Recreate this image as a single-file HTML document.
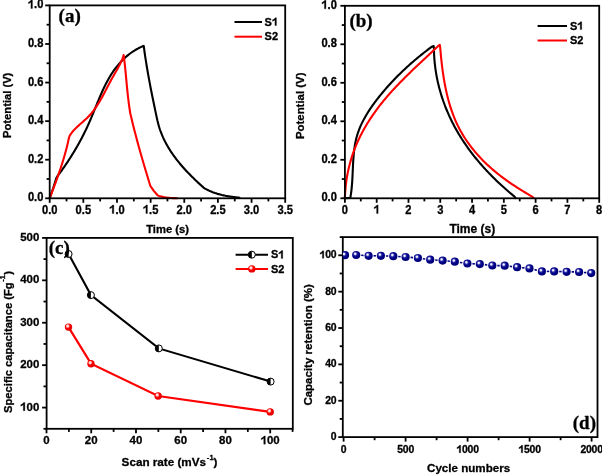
<!DOCTYPE html><html><head><meta charset="utf-8"><style>html,body{margin:0;padding:0;background:#fff;}svg{display:block;will-change:transform}.t{font-family:"Liberation Sans", sans-serif;font-weight:bold;font-size:11px;fill:#000}.td{font-family:"Liberation Sans", sans-serif;font-weight:bold;font-size:10.4px;fill:#000;letter-spacing:-0.2px}.ax{font-family:"Liberation Sans", sans-serif;font-weight:bold;font-size:11.2px;fill:#000}.lg{font-family:"Liberation Sans", sans-serif;font-weight:bold;font-size:11px;fill:#000}.pl{font-family:"Liberation Serif", serif;font-weight:bold;font-size:19px;fill:#000}text{stroke:#000;stroke-width:0.3px;stroke-linejoin:round}</style></head><body>
<svg width="602" height="475" viewBox="0 0 602 475">
<defs><radialGradient id="gb" cx="0.4" cy="0.38" r="0.62" fx="0.37" fy="0.35"><stop offset="0" stop-color="#ffffff"/><stop offset="0.14" stop-color="#e8e8ff"/><stop offset="0.36" stop-color="#2a2aa0"/><stop offset="0.6" stop-color="#00008a"/><stop offset="1" stop-color="#000072"/></radialGradient><radialGradient id="gr" cx="0.4" cy="0.38" r="0.6" fx="0.38" fy="0.35"><stop offset="0" stop-color="#ffffff"/><stop offset="0.25" stop-color="#ffc8c8"/><stop offset="0.5" stop-color="#ff0000"/><stop offset="1" stop-color="#e00000"/></radialGradient><clipPath id="cpd"><rect x="342.8" y="237" width="255" height="200"/></clipPath></defs>
<path d="M49.7,198.2 L53.2,188 L56.4,177.9 L57.01,176.76 L57.79,175.73 L58.57,174.7 L59.34,173.67 L60.1,172.63 L60.87,171.58 L61.62,170.54 L62.37,169.49 L63.12,168.43 L63.86,167.38 L64.6,166.31 L65.33,165.25 L66.06,164.18 L66.78,163.11 L67.5,162.04 L68.21,160.96 L68.92,159.88 L69.62,158.79 L70.32,157.7 L71.01,156.61 L71.69,155.52 L72.37,154.42 L73.05,153.32 L73.72,152.22 L74.39,151.11 L75.05,150.01 L75.7,148.9 L76.35,147.78 L76.99,146.66 L77.63,145.55 L78.26,144.42 L78.89,143.3 L79.51,142.17 L80.13,141.04 L80.74,139.91 L81.34,138.77 L81.94,137.64 L82.54,136.49 L83.12,135.35 L83.71,134.2 L84.28,133.05 L84.85,131.9 L85.41,130.75 L85.97,129.59 L86.52,128.43 L87.07,127.26 L87.61,126.09 L88.14,124.92 L88.67,123.75 L89.19,122.57 L89.71,121.39 L90.22,120.21 L90.73,119.03 L91.23,117.84 L91.73,116.65 L92.23,115.46 L92.73,114.26 L93.22,113.07 L93.71,111.87 L94.2,110.67 L94.69,109.47 L95.18,108.26 L95.67,107.06 L96.16,105.86 L96.65,104.65 L97.14,103.45 L97.63,102.24 L98.13,101.04 L98.63,99.84 L99.13,98.64 L99.64,97.44 L100.15,96.24 L100.66,95.04 L101.18,93.85 L101.71,92.66 L102.24,91.48 L102.78,90.3 L103.32,89.12 L103.88,87.95 L104.44,86.78 L105.01,85.62 L105.58,84.47 L106.17,83.32 L106.77,82.17 L107.37,81.04 L107.99,79.91 L108.62,78.79 L109.26,77.67 L109.91,76.57 L110.58,75.47 L111.25,74.38 L111.94,73.3 L112.65,72.23 L113.37,71.17 L114.1,70.12 L114.85,69.09 L115.61,68.06 L116.39,67.04 L117.19,66.04 L118.01,65.05 L118.84,64.07 L119.68,63.1 L120.55,62.15 L121.43,61.21 L122.33,60.29 L123.25,59.38 L124.18,58.49 L125.13,57.61 L126.1,56.75 L127.08,55.91 L128.08,55.09 L129.1,54.29 L130.13,53.5 L131.18,52.74 L132.24,51.99 L133.33,51.27 L134.43,50.57 L135.54,49.89 L136.67,49.23 L137.82,48.6 L138.99,47.99 L140.17,47.4 L141.36,46.84 L142.57,46.31 L143.7,45.9 L143.95,47.68 L144.2,49.46 L144.44,51.24 L144.7,53.02 L144.96,54.8 L145.22,56.58 L145.49,58.36 L145.77,60.14 L146.05,61.91 L146.33,63.69 L146.62,65.46 L146.92,67.23 L147.22,69.01 L147.52,70.78 L147.83,72.55 L148.14,74.32 L148.46,76.09 L148.78,77.86 L149.1,79.63 L149.43,81.39 L149.76,83.16 L150.09,84.93 L150.43,86.69 L150.77,88.46 L151.12,90.22 L151.46,91.99 L151.81,93.75 L152.17,95.51 L152.52,97.27 L152.88,99.04 L153.24,100.8 L153.6,102.56 L153.97,104.32 L154.33,106.08 L154.7,107.84 L155.07,109.6 L155.44,111.36 L155.81,113.12 L156.18,114.88 L156.56,116.63 L156.9,118.4 L157.25,119.65 L157.53,120.98 L157.84,122.29 L158.17,123.6 L158.51,124.89 L158.88,126.18 L159.27,127.46 L159.68,128.73 L160.1,129.99 L160.55,131.24 L161.01,132.48 L161.49,133.72 L161.99,134.94 L162.51,136.16 L163.04,137.37 L163.6,138.57 L164.16,139.76 L164.75,140.94 L165.35,142.11 L165.96,143.28 L166.59,144.44 L167.24,145.59 L167.9,146.73 L168.58,147.87 L169.26,148.99 L169.97,150.11 L170.68,151.22 L171.41,152.33 L172.15,153.42 L172.91,154.51 L173.67,155.59 L174.45,156.66 L175.24,157.73 L176.04,158.79 L176.85,159.84 L177.67,160.89 L178.5,161.92 L179.34,162.95 L180.19,163.98 L181.05,164.99 L181.91,166 L182.79,167.01 L183.67,168 L184.56,169 L185.46,169.98 L186.37,170.96 L187.28,171.93 L188.2,172.89 L189.12,173.85 L190.05,174.8 L190.99,175.75 L191.93,176.69 L192.88,177.62 L193.83,178.55 L194.78,179.48 L195.74,180.39 L196.7,181.3 L197.66,182.21 L198.63,183.11 L199.6,184 L200.57,184.89 L201.55,185.78 L202.52,186.65 L203.5,187.53 L204.6,188.3 L205.37,188.74 L206.15,189.18 L206.94,189.6 L207.73,190.01 L208.53,190.41 L209.33,190.79 L210.14,191.15 L210.96,191.5 L211.78,191.84 L212.6,192.17 L213.43,192.48 L214.27,192.79 L215.1,193.08 L215.94,193.35 L216.79,193.62 L217.64,193.88 L218.49,194.12 L219.35,194.36 L220.21,194.58 L221.07,194.8 L221.93,195.01 L222.8,195.2 L223.67,195.39 L224.54,195.57 L225.41,195.75 L226.29,195.91 L227.17,196.07 L228.04,196.22 L228.92,196.36 L229.8,196.5 L230.68,196.63 L231.57,196.76 L232.45,196.88 L233.33,196.99 L234.21,197.1 L235.09,197.21 L235.98,197.31 L236.86,197.4 L237.74,197.5 L238.62,197.59 L239.5,197.7" fill="none" stroke="#000" stroke-width="2.1" stroke-linejoin="round" stroke-linecap="round"/>
<path d="M49.7,198.2 L50.3,196.75 L50.85,195.28 L51.41,193.82 L51.96,192.35 L52.52,190.88 L53.07,189.41 L53.62,187.94 L54.17,186.47 L54.71,185 L55.25,183.53 L55.79,182.05 L56.33,180.58 L56.86,179.1 L57.39,177.63 L57.91,176.15 L58.43,174.67 L58.94,173.19 L59.45,171.7 L59.96,170.22 L60.45,168.73 L60.95,167.24 L61.43,165.75 L61.91,164.26 L62.38,162.76 L62.85,161.27 L63.31,159.77 L63.76,158.27 L64.2,156.76 L64.63,155.26 L65.06,153.75 L65.48,152.24 L65.89,150.73 L66.29,149.21 L66.68,147.69 L67.05,146.17 L67.42,144.65 L67.78,143.12 L68.13,141.59 L68.47,140.05 L68.8,138.52 L69.2,137 L69.62,135.79 L70.26,134.78 L70.94,133.8 L71.65,132.84 L72.39,131.91 L73.16,131 L73.95,130.11 L74.77,129.24 L75.6,128.39 L76.45,127.56 L77.32,126.73 L78.2,125.92 L79.09,125.11 L79.98,124.32 L80.88,123.52 L81.79,122.73 L82.69,121.94 L83.59,121.14 L84.48,120.34 L85.37,119.54 L86.24,118.72 L87.11,117.9 L87.95,117.06 L88.78,116.21 L89.59,115.34 L90.39,114.46 L91.16,113.56 L91.92,112.65 L92.66,111.73 L93.39,110.79 L94.1,109.85 L94.8,108.89 L95.48,107.92 L96.15,106.93 L96.81,105.94 L97.46,104.94 L98.1,103.94 L98.72,102.92 L99.34,101.9 L99.95,100.86 L100.55,99.83 L101.15,98.78 L101.74,97.74 L102.32,96.68 L102.9,95.63 L103.47,94.57 L104.04,93.5 L104.6,92.44 L105.16,91.37 L105.72,90.3 L106.28,89.22 L106.84,88.15 L107.4,87.08 L107.95,86.01 L108.51,84.94 L109.08,83.87 L109.64,82.8 L110.21,81.73 L110.78,80.67 L111.35,79.61 L111.94,78.55 L112.52,77.5 L113.11,76.46 L113.71,75.41 L114.31,74.37 L114.91,73.34 L115.51,72.3 L116.11,71.26 L116.7,70.22 L117.29,69.18 L117.87,68.14 L118.45,67.09 L119.01,66.04 L119.56,64.99 L120.1,63.93 L120.63,62.86 L121.14,61.78 L121.63,60.69 L122.1,59.59 L122.55,58.49 L122.97,57.37 L123.38,56.23 L123.6,55 L123.96,57 L124.21,59.01 L124.44,61.03 L124.66,63.04 L124.88,65.06 L125.09,67.08 L125.29,69.1 L125.49,71.12 L125.68,73.14 L125.87,75.17 L126.06,77.19 L126.25,79.21 L126.44,81.23 L126.63,83.26 L126.82,85.28 L127.02,87.3 L127.22,89.32 L127.42,91.34 L127.63,93.36 L127.85,95.38 L128.08,97.4 L128.32,99.42 L128.56,101.44 L128.82,103.45 L129.09,105.46 L129.38,107.48 L129.68,109.48 L129.99,111.49 L130.3,113.5 L130.74,115.28 L131.16,117.06 L131.59,118.84 L132.02,120.62 L132.45,122.4 L132.89,124.17 L133.33,125.95 L133.77,127.73 L134.22,129.5 L134.68,131.27 L135.14,133.04 L135.6,134.81 L136.06,136.58 L136.53,138.35 L137.01,140.12 L137.48,141.89 L137.96,143.65 L138.45,145.42 L138.93,147.18 L139.43,148.94 L139.92,150.71 L140.41,152.47 L140.91,154.23 L141.42,155.99 L141.92,157.74 L142.43,159.5 L142.94,161.26 L143.45,163.02 L143.97,164.77 L144.48,166.53 L145,168.28 L145.52,170.04 L146.05,171.79 L146.57,173.54 L147.1,175.3 L147.63,177.05 L148.16,178.8 L148.69,180.55 L149.22,182.3 L149.76,184.05 L150.3,185.8 L154,191.1 L157.6,195.3 L158.41,195.61 L159.22,195.9 L160.04,196.16 L160.87,196.41 L161.7,196.63 L162.54,196.83 L163.38,197.02 L164.22,197.18 L165.07,197.34 L165.92,197.47 L166.78,197.59 L167.63,197.7 L168.49,197.79 L169.35,197.87 L170.21,197.94 L171.08,198 L171.94,198.05 L172.8,198.09 L173.66,198.12 L174.52,198.15 L175.38,198.17 L176.24,198.19 L177.1,198.2" fill="none" stroke="#ff0000" stroke-width="2.1" stroke-linejoin="round" stroke-linecap="round"/>
<rect x="49.7" y="5.4" width="235.5" height="192.9" fill="none" stroke="#000" stroke-width="1.8"/>
<line x1="49.7" y1="198.3" x2="49.7" y2="202.8" stroke="#000" stroke-width="1.8"/>
<text transform="translate(41.94,213.5) scale(0.93,1)" class="t" style="font-size:12.0px">0.0</text>
<line x1="66.52" y1="198.3" x2="66.52" y2="201.4" stroke="#000" stroke-width="1.8"/>
<line x1="83.34" y1="198.3" x2="83.34" y2="202.8" stroke="#000" stroke-width="1.8"/>
<text transform="translate(75.59,213.5) scale(0.93,1)" class="t" style="font-size:12.0px">0.5</text>
<line x1="100.16" y1="198.3" x2="100.16" y2="201.4" stroke="#000" stroke-width="1.8"/>
<line x1="116.99" y1="198.3" x2="116.99" y2="202.8" stroke="#000" stroke-width="1.8"/>
<text transform="translate(109.23,213.5) scale(0.93,1)" class="t" style="font-size:12.0px"> .0</text>
<path d="M836 0H556V1056C453 960 280 864 104 812V1068C200 1100 310 1160 410 1240C500 1310 570 1390 610 1466H836Z" transform="translate(109.23,213.5) scale(0.005449,-0.005859)" fill="#000" stroke="#000" stroke-width="0.3" vector-effect="non-scaling-stroke"/>
<line x1="133.81" y1="198.3" x2="133.81" y2="201.4" stroke="#000" stroke-width="1.8"/>
<line x1="150.63" y1="198.3" x2="150.63" y2="202.8" stroke="#000" stroke-width="1.8"/>
<text transform="translate(142.87,213.5) scale(0.93,1)" class="t" style="font-size:12.0px"> .5</text>
<path d="M836 0H556V1056C453 960 280 864 104 812V1068C200 1100 310 1160 410 1240C500 1310 570 1390 610 1466H836Z" transform="translate(142.87,213.5) scale(0.005449,-0.005859)" fill="#000" stroke="#000" stroke-width="0.3" vector-effect="non-scaling-stroke"/>
<line x1="167.45" y1="198.3" x2="167.45" y2="201.4" stroke="#000" stroke-width="1.8"/>
<line x1="184.27" y1="198.3" x2="184.27" y2="202.8" stroke="#000" stroke-width="1.8"/>
<text transform="translate(176.51,213.5) scale(0.93,1)" class="t" style="font-size:12.0px">2.0</text>
<line x1="201.09" y1="198.3" x2="201.09" y2="201.4" stroke="#000" stroke-width="1.8"/>
<line x1="217.91" y1="198.3" x2="217.91" y2="202.8" stroke="#000" stroke-width="1.8"/>
<text transform="translate(210.16,213.5) scale(0.93,1)" class="t" style="font-size:12.0px">2.5</text>
<line x1="234.74" y1="198.3" x2="234.74" y2="201.4" stroke="#000" stroke-width="1.8"/>
<line x1="251.56" y1="198.3" x2="251.56" y2="202.8" stroke="#000" stroke-width="1.8"/>
<text transform="translate(243.8,213.5) scale(0.93,1)" class="t" style="font-size:12.0px">3.0</text>
<line x1="268.38" y1="198.3" x2="268.38" y2="201.4" stroke="#000" stroke-width="1.8"/>
<line x1="285.2" y1="198.3" x2="285.2" y2="202.8" stroke="#000" stroke-width="1.8"/>
<text transform="translate(277.44,213.5) scale(0.93,1)" class="t" style="font-size:12.0px">3.5</text>
<line x1="49.7" y1="198.3" x2="45.2" y2="198.3" stroke="#000" stroke-width="1.8"/>
<text transform="translate(27.89,201.3) scale(0.93,1)" class="t" style="font-size:12.0px">0.0</text>
<line x1="49.7" y1="179.01" x2="46.6" y2="179.01" stroke="#000" stroke-width="1.8"/>
<line x1="49.7" y1="159.72" x2="45.2" y2="159.72" stroke="#000" stroke-width="1.8"/>
<text transform="translate(27.89,162.72) scale(0.93,1)" class="t" style="font-size:12.0px">0.2</text>
<line x1="49.7" y1="140.43" x2="46.6" y2="140.43" stroke="#000" stroke-width="1.8"/>
<line x1="49.7" y1="121.14" x2="45.2" y2="121.14" stroke="#000" stroke-width="1.8"/>
<text transform="translate(27.89,124.14) scale(0.93,1)" class="t" style="font-size:12.0px">0.4</text>
<line x1="49.7" y1="101.85" x2="46.6" y2="101.85" stroke="#000" stroke-width="1.8"/>
<line x1="49.7" y1="82.56" x2="45.2" y2="82.56" stroke="#000" stroke-width="1.8"/>
<text transform="translate(27.89,85.56) scale(0.93,1)" class="t" style="font-size:12.0px">0.6</text>
<line x1="49.7" y1="63.27" x2="46.6" y2="63.27" stroke="#000" stroke-width="1.8"/>
<line x1="49.7" y1="43.98" x2="45.2" y2="43.98" stroke="#000" stroke-width="1.8"/>
<text transform="translate(27.89,46.98) scale(0.93,1)" class="t" style="font-size:12.0px">0.8</text>
<line x1="49.7" y1="24.69" x2="46.6" y2="24.69" stroke="#000" stroke-width="1.8"/>
<line x1="49.7" y1="5.4" x2="45.2" y2="5.4" stroke="#000" stroke-width="1.8"/>
<text transform="translate(27.89,8.4) scale(0.93,1)" class="t" style="font-size:12.0px"> .0</text>
<path d="M836 0H556V1056C453 960 280 864 104 812V1068C200 1100 310 1160 410 1240C500 1310 570 1390 610 1466H836Z" transform="translate(27.89,8.4) scale(0.005449,-0.005859)" fill="#000" stroke="#000" stroke-width="0.3" vector-effect="non-scaling-stroke"/>
<text x="167.6" y="233.2" text-anchor="middle" class="ax">Time (s)</text>
<text transform="translate(11.2,105.3) rotate(-90)" text-anchor="middle" class="ax">Potential (V)</text>
<text x="58.6" y="21.8" class="pl">(a)</text>
<line x1="234.5" y1="22" x2="262" y2="22" stroke="#000" stroke-width="2"/>
<line x1="234.5" y1="36.7" x2="262" y2="36.7" stroke="#ff0000" stroke-width="2"/>
<text x="264.6" y="25.6" class="lg" style="font-size:11px">S </text>
<path d="M836 0H556V1056C453 960 280 864 104 812V1068C200 1100 310 1160 410 1240C500 1310 570 1390 610 1466H836Z" transform="translate(271.94,25.6) scale(0.005371,-0.005371)" fill="#000" stroke="#000" stroke-width="0.3" vector-effect="non-scaling-stroke"/>
<text x="264.6" y="40.3" class="lg" style="font-size:11px">S2</text>
<path d="M344.5,198.2 L350.4,197.9 L350.6,196.18 L350.86,194.55 L351.1,192.9 L351.32,191.24 L351.52,189.58 L351.69,187.9 L351.85,186.21 L351.99,184.52 L352.11,182.82 L352.23,181.11 L352.33,179.39 L352.42,177.68 L352.51,175.95 L352.59,174.22 L352.67,172.49 L352.74,170.76 L352.82,169.03 L352.9,167.29 L352.98,165.56 L353.07,163.82 L353.16,162.09 L353.27,160.36 L353.39,158.63 L353.51,156.9 L353.66,155.18 L353.82,153.46 L354,151.75 L354.2,150.05 L354.42,148.35 L354.67,146.66 L354.94,144.98 L355.24,143.31 L355.57,141.65 L355.93,139.99 L356.32,138.35 L356.75,136.73 L357.22,135.11 L357.72,133.51 L358.26,131.92 L358.83,130.34 L359.43,128.77 L360.07,127.22 L360.74,125.68 L361.44,124.15 L362.16,122.63 L362.92,121.12 L363.7,119.63 L364.51,118.14 L365.34,116.67 L366.19,115.2 L367.07,113.75 L367.97,112.3 L368.89,110.87 L369.82,109.44 L370.78,108.03 L371.75,106.62 L372.74,105.22 L373.74,103.83 L374.76,102.45 L375.78,101.08 L376.82,99.72 L377.87,98.36 L378.93,97.02 L380,95.68 L381.08,94.35 L382.17,93.02 L383.27,91.71 L384.38,90.4 L385.49,89.1 L386.62,87.81 L387.75,86.53 L388.89,85.25 L390.04,83.98 L391.2,82.72 L392.37,81.47 L393.55,80.23 L394.73,78.99 L395.92,77.76 L397.12,76.55 L398.33,75.33 L399.54,74.13 L400.76,72.93 L401.99,71.75 L403.23,70.57 L404.47,69.4 L405.72,68.23 L406.98,67.08 L408.24,65.93 L409.51,64.79 L410.79,63.66 L412.07,62.54 L413.36,61.42 L414.65,60.31 L415.95,59.21 L417.26,58.12 L418.57,57.04 L419.88,55.96 L421.2,54.9 L422.53,53.84 L423.86,52.79 L425.2,51.74 L426.54,50.71 L427.88,49.68 L429.23,48.66 L430.59,47.65 L431.94,46.65 L433.6,46 L433.93,47.99 L433.95,49.89 L434,51.79 L434.07,53.69 L434.16,55.58 L434.27,57.47 L434.41,59.35 L434.56,61.24 L434.74,63.11 L434.95,64.99 L435.17,66.86 L435.42,68.73 L435.69,70.59 L435.98,72.45 L436.29,74.3 L436.62,76.15 L436.97,78 L437.35,79.84 L437.74,81.68 L438.16,83.51 L438.6,85.33 L439.05,87.15 L439.53,88.96 L440.03,90.77 L440.55,92.57 L441.08,94.37 L441.64,96.16 L442.22,97.94 L442.81,99.72 L443.43,101.49 L444.06,103.25 L444.71,105.01 L445.39,106.76 L446.08,108.5 L446.79,110.24 L447.51,111.96 L448.26,113.68 L449.02,115.39 L449.8,117.1 L450.6,118.79 L451.42,120.48 L452.26,122.16 L453.11,123.83 L453.98,125.49 L454.86,127.14 L455.77,128.78 L456.69,130.42 L457.62,132.04 L458.57,133.66 L459.54,135.27 L460.53,136.86 L461.53,138.45 L462.54,140.03 L463.57,141.6 L464.62,143.16 L465.68,144.71 L466.75,146.25 L467.84,147.78 L468.94,149.31 L470.06,150.82 L471.18,152.32 L472.33,153.82 L473.48,155.3 L474.65,156.78 L475.83,158.25 L477.02,159.7 L478.23,161.15 L479.45,162.59 L480.67,164.01 L481.91,165.43 L483.16,166.84 L484.43,168.24 L485.7,169.63 L486.98,171.01 L488.27,172.38 L489.58,173.74 L490.89,175.09 L492.21,176.43 L493.54,177.76 L494.88,179.08 L496.23,180.4 L497.59,181.7 L498.96,182.99 L500.33,184.27 L501.71,185.54 L503.1,186.81 L504.5,188.06 L505.9,189.3 L507.32,190.53 L508.73,191.75 L510.16,192.97 L511.59,194.17 L513.03,195.36 L514.47,196.54 L515.6,198.1" fill="none" stroke="#000" stroke-width="2.1" stroke-linejoin="round" stroke-linecap="round"/>
<path d="M344.6,197.8 L344.98,196.08 L345.06,194.21 L345.17,192.34 L345.31,190.48 L345.46,188.62 L345.64,186.77 L345.84,184.92 L346.06,183.08 L346.31,181.24 L346.58,179.4 L346.87,177.57 L347.18,175.75 L347.52,173.93 L347.87,172.12 L348.25,170.31 L348.66,168.51 L349.08,166.72 L349.53,164.94 L350,163.16 L350.49,161.39 L351,159.62 L351.54,157.87 L352.1,156.12 L352.68,154.38 L353.28,152.65 L353.9,150.92 L354.55,149.21 L355.21,147.51 L355.9,145.81 L356.61,144.12 L357.34,142.44 L358.09,140.77 L358.86,139.11 L359.65,137.46 L360.46,135.82 L361.29,134.19 L362.14,132.56 L363.01,130.95 L363.89,129.34 L364.79,127.75 L365.71,126.16 L366.65,124.58 L367.6,123.02 L368.57,121.46 L369.56,119.91 L370.56,118.37 L371.58,116.84 L372.61,115.32 L373.66,113.81 L374.72,112.3 L375.8,110.81 L376.89,109.33 L377.99,107.86 L379.11,106.39 L380.24,104.94 L381.38,103.5 L382.53,102.06 L383.7,100.64 L384.88,99.22 L386.07,97.81 L387.27,96.41 L388.48,95.02 L389.7,93.64 L390.93,92.27 L392.16,90.9 L393.41,89.54 L394.67,88.18 L395.93,86.84 L397.2,85.5 L398.48,84.16 L399.76,82.84 L401.05,81.51 L402.35,80.2 L403.65,78.89 L404.96,77.58 L406.27,76.28 L407.59,74.98 L408.91,73.69 L410.23,72.41 L411.56,71.12 L412.89,69.84 L414.22,68.57 L415.56,67.29 L416.89,66.02 L418.23,64.75 L419.57,63.49 L420.91,62.23 L422.24,60.97 L423.58,59.71 L424.92,58.45 L426.26,57.19 L427.59,55.94 L428.92,54.69 L430.25,53.43 L431.58,52.18 L432.91,50.93 L434.23,49.67 L435.55,48.42 L436.86,47.17 L438.17,45.91 L439.8,44.9 L440.15,47.06 L440.33,49.13 L440.51,51.2 L440.7,53.29 L440.89,55.38 L441.1,57.48 L441.32,59.58 L441.54,61.69 L441.78,63.8 L442.04,65.92 L442.3,68.04 L442.58,70.16 L442.87,72.28 L443.18,74.41 L443.5,76.53 L443.84,78.65 L444.2,80.78 L444.57,82.9 L444.97,85.01 L445.38,87.12 L445.81,89.23 L446.26,91.34 L446.74,93.43 L447.24,95.53 L447.75,97.61 L448.3,99.69 L448.86,101.75 L449.46,103.81 L450.07,105.86 L450.72,107.9 L451.39,109.93 L452.09,111.94 L452.81,113.94 L453.57,115.93 L454.36,117.9 L455.17,119.86 L456.02,121.8 L456.9,123.73 L457.81,125.64 L458.76,127.53 L459.74,129.4 L460.75,131.26 L461.79,133.09 L462.87,134.91 L463.98,136.71 L465.12,138.49 L466.29,140.25 L467.49,141.99 L468.71,143.71 L469.97,145.42 L471.25,147.11 L472.56,148.77 L473.9,150.42 L475.26,152.05 L476.65,153.66 L478.06,155.26 L479.49,156.83 L480.95,158.38 L482.43,159.92 L483.94,161.43 L485.46,162.93 L487,164.41 L488.57,165.87 L490.15,167.31 L491.75,168.73 L493.37,170.13 L495.01,171.52 L496.67,172.88 L498.34,174.22 L500.02,175.55 L501.72,176.86 L503.44,178.14 L505.17,179.41 L506.91,180.66 L508.66,181.89 L510.42,183.1 L512.2,184.3 L513.98,185.47 L515.77,186.64 L517.57,187.79 L519.37,188.92 L521.18,190.05 L522.98,191.16 L524.8,192.27 L526.61,193.36 L528.42,194.45 L530.23,195.53 L532.03,196.61 L533.6,198.1" fill="none" stroke="#ff0000" stroke-width="2.1" stroke-linejoin="round" stroke-linecap="round"/>
<rect x="344.9" y="5.8" width="254.3" height="192.5" fill="none" stroke="#000" stroke-width="1.8"/>
<line x1="344.9" y1="198.3" x2="344.9" y2="202.8" stroke="#000" stroke-width="1.8"/>
<text transform="translate(341.8,213.5) scale(0.93,1)" class="t" style="font-size:12.0px">0</text>
<line x1="360.79" y1="198.3" x2="360.79" y2="201.4" stroke="#000" stroke-width="1.8"/>
<line x1="376.69" y1="198.3" x2="376.69" y2="202.8" stroke="#000" stroke-width="1.8"/>
<text transform="translate(373.58,213.5) scale(0.93,1)" class="t" style="font-size:12.0px"> </text>
<path d="M836 0H556V1056C453 960 280 864 104 812V1068C200 1100 310 1160 410 1240C500 1310 570 1390 610 1466H836Z" transform="translate(373.58,213.5) scale(0.005449,-0.005859)" fill="#000" stroke="#000" stroke-width="0.3" vector-effect="non-scaling-stroke"/>
<line x1="392.58" y1="198.3" x2="392.58" y2="201.4" stroke="#000" stroke-width="1.8"/>
<line x1="408.48" y1="198.3" x2="408.48" y2="202.8" stroke="#000" stroke-width="1.8"/>
<text transform="translate(405.37,213.5) scale(0.93,1)" class="t" style="font-size:12.0px">2</text>
<line x1="424.37" y1="198.3" x2="424.37" y2="201.4" stroke="#000" stroke-width="1.8"/>
<line x1="440.26" y1="198.3" x2="440.26" y2="202.8" stroke="#000" stroke-width="1.8"/>
<text transform="translate(437.16,213.5) scale(0.93,1)" class="t" style="font-size:12.0px">3</text>
<line x1="456.16" y1="198.3" x2="456.16" y2="201.4" stroke="#000" stroke-width="1.8"/>
<line x1="472.05" y1="198.3" x2="472.05" y2="202.8" stroke="#000" stroke-width="1.8"/>
<text transform="translate(468.95,213.5) scale(0.93,1)" class="t" style="font-size:12.0px">4</text>
<line x1="487.94" y1="198.3" x2="487.94" y2="201.4" stroke="#000" stroke-width="1.8"/>
<line x1="503.84" y1="198.3" x2="503.84" y2="202.8" stroke="#000" stroke-width="1.8"/>
<text transform="translate(500.73,213.5) scale(0.93,1)" class="t" style="font-size:12.0px">5</text>
<line x1="519.73" y1="198.3" x2="519.73" y2="201.4" stroke="#000" stroke-width="1.8"/>
<line x1="535.62" y1="198.3" x2="535.62" y2="202.8" stroke="#000" stroke-width="1.8"/>
<text transform="translate(532.52,213.5) scale(0.93,1)" class="t" style="font-size:12.0px">6</text>
<line x1="551.52" y1="198.3" x2="551.52" y2="201.4" stroke="#000" stroke-width="1.8"/>
<line x1="567.41" y1="198.3" x2="567.41" y2="202.8" stroke="#000" stroke-width="1.8"/>
<text transform="translate(564.31,213.5) scale(0.93,1)" class="t" style="font-size:12.0px">7</text>
<line x1="583.31" y1="198.3" x2="583.31" y2="201.4" stroke="#000" stroke-width="1.8"/>
<line x1="599.2" y1="198.3" x2="599.2" y2="202.8" stroke="#000" stroke-width="1.8"/>
<text transform="translate(596.1,213.5) scale(0.93,1)" class="t" style="font-size:12.0px">8</text>
<line x1="344.9" y1="198.3" x2="340.4" y2="198.3" stroke="#000" stroke-width="1.8"/>
<text transform="translate(321.39,201.3) scale(0.93,1)" class="t" style="font-size:12.0px">0.0</text>
<line x1="344.9" y1="179.05" x2="341.8" y2="179.05" stroke="#000" stroke-width="1.8"/>
<line x1="344.9" y1="159.8" x2="340.4" y2="159.8" stroke="#000" stroke-width="1.8"/>
<text transform="translate(321.39,162.8) scale(0.93,1)" class="t" style="font-size:12.0px">0.2</text>
<line x1="344.9" y1="140.55" x2="341.8" y2="140.55" stroke="#000" stroke-width="1.8"/>
<line x1="344.9" y1="121.3" x2="340.4" y2="121.3" stroke="#000" stroke-width="1.8"/>
<text transform="translate(321.39,124.3) scale(0.93,1)" class="t" style="font-size:12.0px">0.4</text>
<line x1="344.9" y1="102.05" x2="341.8" y2="102.05" stroke="#000" stroke-width="1.8"/>
<line x1="344.9" y1="82.8" x2="340.4" y2="82.8" stroke="#000" stroke-width="1.8"/>
<text transform="translate(321.39,85.8) scale(0.93,1)" class="t" style="font-size:12.0px">0.6</text>
<line x1="344.9" y1="63.55" x2="341.8" y2="63.55" stroke="#000" stroke-width="1.8"/>
<line x1="344.9" y1="44.3" x2="340.4" y2="44.3" stroke="#000" stroke-width="1.8"/>
<text transform="translate(321.39,47.3) scale(0.93,1)" class="t" style="font-size:12.0px">0.8</text>
<line x1="344.9" y1="25.05" x2="341.8" y2="25.05" stroke="#000" stroke-width="1.8"/>
<line x1="344.9" y1="5.8" x2="340.4" y2="5.8" stroke="#000" stroke-width="1.8"/>
<text transform="translate(321.39,8.8) scale(0.93,1)" class="t" style="font-size:12.0px"> .0</text>
<path d="M836 0H556V1056C453 960 280 864 104 812V1068C200 1100 310 1160 410 1240C500 1310 570 1390 610 1466H836Z" transform="translate(321.39,8.8) scale(0.005449,-0.005859)" fill="#000" stroke="#000" stroke-width="0.3" vector-effect="non-scaling-stroke"/>
<text x="472.3" y="233" text-anchor="middle" class="ax" style="font-size:12px">Time (s)</text>
<text transform="translate(304.4,105.8) rotate(-90)" text-anchor="middle" class="ax" style="font-size:11.4px">Potential (V)</text>
<text x="349.4" y="27.2" class="pl">(b)</text>
<line x1="537.6" y1="26" x2="567" y2="26" stroke="#000" stroke-width="2"/>
<line x1="537.6" y1="40.5" x2="567" y2="40.5" stroke="#ff0000" stroke-width="2"/>
<text x="569.9" y="29.6" class="lg" style="font-size:11px">S </text>
<path d="M836 0H556V1056C453 960 280 864 104 812V1068C200 1100 310 1160 410 1240C500 1310 570 1390 610 1466H836Z" transform="translate(577.24,29.6) scale(0.005371,-0.005371)" fill="#000" stroke="#000" stroke-width="0.3" vector-effect="non-scaling-stroke"/>
<text x="569.9" y="44.1" class="lg" style="font-size:11px">S2</text>
<rect x="46.6" y="237.9" width="246.2" height="190.9" fill="none" stroke="#000" stroke-width="1.8"/>
<line x1="46.5" y1="428.8" x2="46.5" y2="433.3" stroke="#000" stroke-width="1.8"/>
<text x="43.32" y="444.2" class="t" style="font-size:11.45px">0</text>
<line x1="68.87" y1="428.8" x2="68.87" y2="431.9" stroke="#000" stroke-width="1.8"/>
<line x1="91.24" y1="428.8" x2="91.24" y2="433.3" stroke="#000" stroke-width="1.8"/>
<text x="84.87" y="444.2" class="t" style="font-size:11.45px">20</text>
<line x1="113.61" y1="428.8" x2="113.61" y2="431.9" stroke="#000" stroke-width="1.8"/>
<line x1="135.98" y1="428.8" x2="135.98" y2="433.3" stroke="#000" stroke-width="1.8"/>
<text x="129.61" y="444.2" class="t" style="font-size:11.45px">40</text>
<line x1="158.35" y1="428.8" x2="158.35" y2="431.9" stroke="#000" stroke-width="1.8"/>
<line x1="180.72" y1="428.8" x2="180.72" y2="433.3" stroke="#000" stroke-width="1.8"/>
<text x="174.35" y="444.2" class="t" style="font-size:11.45px">60</text>
<line x1="203.09" y1="428.8" x2="203.09" y2="431.9" stroke="#000" stroke-width="1.8"/>
<line x1="225.46" y1="428.8" x2="225.46" y2="433.3" stroke="#000" stroke-width="1.8"/>
<text x="219.09" y="444.2" class="t" style="font-size:11.45px">80</text>
<line x1="247.83" y1="428.8" x2="247.83" y2="431.9" stroke="#000" stroke-width="1.8"/>
<line x1="270.2" y1="428.8" x2="270.2" y2="433.3" stroke="#000" stroke-width="1.8"/>
<text x="260.65" y="444.2" class="t" style="font-size:11.45px"> 00</text>
<path d="M836 0H556V1056C453 960 280 864 104 812V1068C200 1100 310 1160 410 1240C500 1310 570 1390 610 1466H836Z" transform="translate(260.65,444.2) scale(0.005591,-0.005591)" fill="#000" stroke="#000" stroke-width="0.3" vector-effect="non-scaling-stroke"/>
<line x1="292.57" y1="428.8" x2="292.57" y2="431.9" stroke="#000" stroke-width="1.8"/>
<line x1="46.6" y1="428.8" x2="43.5" y2="428.8" stroke="#000" stroke-width="1.8"/>
<line x1="46.6" y1="407.59" x2="42.1" y2="407.59" stroke="#000" stroke-width="1.8"/>
<text x="20.2" y="410.69" class="t" style="font-size:11.45px"> 00</text>
<path d="M836 0H556V1056C453 960 280 864 104 812V1068C200 1100 310 1160 410 1240C500 1310 570 1390 610 1466H836Z" transform="translate(20.2,410.69) scale(0.005591,-0.005591)" fill="#000" stroke="#000" stroke-width="0.3" vector-effect="non-scaling-stroke"/>
<line x1="46.6" y1="386.38" x2="43.5" y2="386.38" stroke="#000" stroke-width="1.8"/>
<line x1="46.6" y1="365.17" x2="42.1" y2="365.17" stroke="#000" stroke-width="1.8"/>
<text x="20.2" y="368.27" class="t" style="font-size:11.45px">200</text>
<line x1="46.6" y1="343.96" x2="43.5" y2="343.96" stroke="#000" stroke-width="1.8"/>
<line x1="46.6" y1="322.74" x2="42.1" y2="322.74" stroke="#000" stroke-width="1.8"/>
<text x="20.2" y="325.84" class="t" style="font-size:11.45px">300</text>
<line x1="46.6" y1="301.53" x2="43.5" y2="301.53" stroke="#000" stroke-width="1.8"/>
<line x1="46.6" y1="280.32" x2="42.1" y2="280.32" stroke="#000" stroke-width="1.8"/>
<text x="20.2" y="283.42" class="t" style="font-size:11.45px">400</text>
<line x1="46.6" y1="259.11" x2="43.5" y2="259.11" stroke="#000" stroke-width="1.8"/>
<line x1="46.6" y1="237.9" x2="42.1" y2="237.9" stroke="#000" stroke-width="1.8"/>
<text x="20.2" y="241" class="t" style="font-size:11.45px">500</text>
<polyline points="68.6,254 90.9,295.1 158.8,348.4 270.6,381.6" fill="none" stroke="#000" stroke-width="2.1"/>
<polyline points="68.5,327.1 91,363.7 158.1,396 270.2,411.9" fill="none" stroke="#ff0000" stroke-width="2.2"/>
<circle cx="68.6" cy="254" r="3.5" fill="#fff" stroke="#000" stroke-width="1"/>
<path d="M68.6,250.5 A3.5,3.5 0 0 0 68.6,257.5 Z" fill="#000"/>
<circle cx="90.9" cy="295.1" r="3.5" fill="#fff" stroke="#000" stroke-width="1"/>
<path d="M90.9,291.6 A3.5,3.5 0 0 0 90.9,298.6 Z" fill="#000"/>
<circle cx="158.8" cy="348.4" r="3.5" fill="#fff" stroke="#000" stroke-width="1"/>
<path d="M158.8,344.9 A3.5,3.5 0 0 0 158.8,351.9 Z" fill="#000"/>
<circle cx="270.6" cy="381.6" r="3.5" fill="#fff" stroke="#000" stroke-width="1"/>
<path d="M270.6,378.1 A3.5,3.5 0 0 0 270.6,385.1 Z" fill="#000"/>
<circle cx="68.5" cy="327.1" r="3.7" fill="url(#gr)"/>
<circle cx="91" cy="363.7" r="3.7" fill="url(#gr)"/>
<circle cx="158.1" cy="396" r="3.7" fill="url(#gr)"/>
<circle cx="270.2" cy="411.9" r="3.7" fill="url(#gr)"/>
<text transform="translate(121.6,466.2)" class="ax" style="font-size:11.7px">Scan rate (mVs<tspan dx="0.8" dy="-6.6" font-size="7.5">-</tspan><tspan dx="0.2" font-size="7.5">1</tspan><tspan dx="-0.3" dy="6.6">)</tspan></text>
<text transform="translate(12.3,342) rotate(-90)" text-anchor="middle" class="ax" style="font-size:11.2px">Specific capacitance (Fg<tspan dx="0.6" dy="-7" font-size="7.5">-</tspan><tspan dx="0.1" font-size="7.5">1</tspan><tspan dx="0.2" dy="7">)</tspan></text>
<text x="48.8" y="253.9" class="pl">(c)</text>
<line x1="235.6" y1="254.7" x2="268" y2="254.7" stroke="#000" stroke-width="2"/>
<circle cx="251.8" cy="254.7" r="3.5" fill="#fff" stroke="#000" stroke-width="1"/>
<path d="M251.8,251.2 A3.5,3.5 0 0 0 251.8,258.2 Z" fill="#000"/>
<line x1="235.6" y1="268.9" x2="268" y2="268.9" stroke="#ff0000" stroke-width="2"/>
<circle cx="251.8" cy="268.9" r="3.7" fill="url(#gr)"/>
<text x="270.9" y="258.4" class="lg" style="font-size:11px">S </text>
<path d="M836 0H556V1056C453 960 280 864 104 812V1068C200 1100 310 1160 410 1240C500 1310 570 1390 610 1466H836Z" transform="translate(278.24,258.4) scale(0.005371,-0.005371)" fill="#000" stroke="#000" stroke-width="0.3" vector-effect="non-scaling-stroke"/>
<text x="270.9" y="272.6" class="lg" style="font-size:11px">S2</text>
<line x1="343.6" y1="437.1" x2="343.6" y2="441.6" stroke="#000" stroke-width="1.8"/>
<text x="340.81" y="452.8" class="td" style="font-size:10.4px;letter-spacing:-0.2px">0</text>
<line x1="374.6" y1="437.1" x2="374.6" y2="440.2" stroke="#000" stroke-width="1.8"/>
<line x1="405.6" y1="437.1" x2="405.6" y2="441.6" stroke="#000" stroke-width="1.8"/>
<text x="397.22" y="452.8" class="td" style="font-size:10.4px;letter-spacing:-0.2px">500</text>
<line x1="436.6" y1="437.1" x2="436.6" y2="440.2" stroke="#000" stroke-width="1.8"/>
<line x1="467.6" y1="437.1" x2="467.6" y2="441.6" stroke="#000" stroke-width="1.8"/>
<text x="456.43" y="452.8" class="td" style="font-size:10.4px;letter-spacing:-0.2px"> 000</text>
<path d="M836 0H556V1056C453 960 280 864 104 812V1068C200 1100 310 1160 410 1240C500 1310 570 1390 610 1466H836Z" transform="translate(456.43,452.8) scale(0.005078,-0.005078)" fill="#000" stroke="#000" stroke-width="0.3" vector-effect="non-scaling-stroke"/>
<line x1="498.6" y1="437.1" x2="498.6" y2="440.2" stroke="#000" stroke-width="1.8"/>
<line x1="529.6" y1="437.1" x2="529.6" y2="441.6" stroke="#000" stroke-width="1.8"/>
<text x="518.43" y="452.8" class="td" style="font-size:10.4px;letter-spacing:-0.2px"> 500</text>
<path d="M836 0H556V1056C453 960 280 864 104 812V1068C200 1100 310 1160 410 1240C500 1310 570 1390 610 1466H836Z" transform="translate(518.43,452.8) scale(0.005078,-0.005078)" fill="#000" stroke="#000" stroke-width="0.3" vector-effect="non-scaling-stroke"/>
<line x1="560.6" y1="437.1" x2="560.6" y2="440.2" stroke="#000" stroke-width="1.8"/>
<line x1="591.6" y1="437.1" x2="591.6" y2="441.6" stroke="#000" stroke-width="1.8"/>
<text x="580.43" y="452.8" class="td" style="font-size:10.4px;letter-spacing:-0.2px">2000</text>
<line x1="342.8" y1="437.1" x2="338.3" y2="437.1" stroke="#000" stroke-width="1.8"/>
<text x="330.72" y="440.1" class="td" style="font-size:10.4px;letter-spacing:-0.2px">0</text>
<line x1="342.8" y1="418.92" x2="339.7" y2="418.92" stroke="#000" stroke-width="1.8"/>
<line x1="342.8" y1="400.74" x2="338.3" y2="400.74" stroke="#000" stroke-width="1.8"/>
<text x="325.13" y="403.74" class="td" style="font-size:10.4px;letter-spacing:-0.2px">20</text>
<line x1="342.8" y1="382.56" x2="339.7" y2="382.56" stroke="#000" stroke-width="1.8"/>
<line x1="342.8" y1="364.38" x2="338.3" y2="364.38" stroke="#000" stroke-width="1.8"/>
<text x="325.13" y="367.38" class="td" style="font-size:10.4px;letter-spacing:-0.2px">40</text>
<line x1="342.8" y1="346.2" x2="339.7" y2="346.2" stroke="#000" stroke-width="1.8"/>
<line x1="342.8" y1="328.02" x2="338.3" y2="328.02" stroke="#000" stroke-width="1.8"/>
<text x="325.13" y="331.02" class="td" style="font-size:10.4px;letter-spacing:-0.2px">60</text>
<line x1="342.8" y1="309.84" x2="339.7" y2="309.84" stroke="#000" stroke-width="1.8"/>
<line x1="342.8" y1="291.66" x2="338.3" y2="291.66" stroke="#000" stroke-width="1.8"/>
<text x="325.13" y="294.66" class="td" style="font-size:10.4px;letter-spacing:-0.2px">80</text>
<line x1="342.8" y1="273.48" x2="339.7" y2="273.48" stroke="#000" stroke-width="1.8"/>
<line x1="342.8" y1="255.3" x2="338.3" y2="255.3" stroke="#000" stroke-width="1.8"/>
<text x="319.55" y="258.3" class="td" style="font-size:10.4px;letter-spacing:-0.2px"> 00</text>
<path d="M836 0H556V1056C453 960 280 864 104 812V1068C200 1100 310 1160 410 1240C500 1310 570 1390 610 1466H836Z" transform="translate(319.55,258.3) scale(0.005078,-0.005078)" fill="#000" stroke="#000" stroke-width="0.3" vector-effect="non-scaling-stroke"/>
<line x1="342.8" y1="237.12" x2="339.7" y2="237.12" stroke="#000" stroke-width="1.8"/>
<line x1="361.2" y1="255.32" x2="363.6" y2="255.48" stroke="#000080" stroke-width="1.6"/>
<line x1="373.55" y1="255.8" x2="375.95" y2="255.8" stroke="#000080" stroke-width="1.6"/>
<line x1="385.9" y1="255.96" x2="388.3" y2="256.04" stroke="#000080" stroke-width="1.6"/>
<line x1="398.25" y1="256.52" x2="400.65" y2="256.68" stroke="#000080" stroke-width="1.6"/>
<line x1="410.55" y1="257.4" x2="412.95" y2="257.6" stroke="#000080" stroke-width="1.6"/>
<line x1="422.86" y1="258.69" x2="425.24" y2="259.01" stroke="#000080" stroke-width="1.6"/>
<line x1="435.2" y1="260.06" x2="437.6" y2="260.24" stroke="#000080" stroke-width="1.6"/>
<line x1="447.5" y1="261.04" x2="449.9" y2="261.26" stroke="#000080" stroke-width="1.6"/>
<line x1="459.91" y1="262.43" x2="462.29" y2="262.77" stroke="#000080" stroke-width="1.6"/>
<line x1="472.4" y1="263.74" x2="474.8" y2="263.86" stroke="#000080" stroke-width="1.6"/>
<line x1="484.86" y1="264.67" x2="487.24" y2="264.93" stroke="#000080" stroke-width="1.6"/>
<line x1="497.3" y1="265.58" x2="499.7" y2="265.62" stroke="#000080" stroke-width="1.6"/>
<line x1="509.71" y1="266.31" x2="512.09" y2="266.59" stroke="#000080" stroke-width="1.6"/>
<line x1="522.11" y1="267.68" x2="524.49" y2="267.92" stroke="#000080" stroke-width="1.6"/>
<line x1="534.53" y1="269.62" x2="536.87" y2="270.18" stroke="#000080" stroke-width="1.6"/>
<line x1="546.85" y1="271.4" x2="549.25" y2="271.4" stroke="#000080" stroke-width="1.6"/>
<line x1="559.2" y1="271.56" x2="561.6" y2="271.64" stroke="#000080" stroke-width="1.6"/>
<line x1="571.65" y1="271.88" x2="574.05" y2="271.92" stroke="#000080" stroke-width="1.6"/>
<line x1="583.95" y1="272.44" x2="586.35" y2="272.66" stroke="#000080" stroke-width="1.6"/>
<rect x="342.8" y="237.1" width="254.7" height="200" fill="none" stroke="#000" stroke-width="1.8"/>
<g clip-path="url(#cpd)">
<circle cx="345" cy="255.2" r="4.1" fill="url(#gb)"/>
<circle cx="356.2" cy="255" r="4.1" fill="url(#gb)"/>
<circle cx="368.6" cy="255.8" r="4.1" fill="url(#gb)"/>
<circle cx="380.9" cy="255.8" r="4.1" fill="url(#gb)"/>
<circle cx="393.3" cy="256.2" r="4.1" fill="url(#gb)"/>
<circle cx="405.6" cy="257" r="4.1" fill="url(#gb)"/>
<circle cx="417.9" cy="258" r="4.1" fill="url(#gb)"/>
<circle cx="430.2" cy="259.7" r="4.1" fill="url(#gb)"/>
<circle cx="442.6" cy="260.6" r="4.1" fill="url(#gb)"/>
<circle cx="454.8" cy="261.7" r="4.1" fill="url(#gb)"/>
<circle cx="467.4" cy="263.5" r="4.1" fill="url(#gb)"/>
<circle cx="479.8" cy="264.1" r="4.1" fill="url(#gb)"/>
<circle cx="492.3" cy="265.5" r="4.1" fill="url(#gb)"/>
<circle cx="504.7" cy="265.7" r="4.1" fill="url(#gb)"/>
<circle cx="517.1" cy="267.2" r="4.1" fill="url(#gb)"/>
<circle cx="529.5" cy="268.4" r="4.1" fill="url(#gb)"/>
<circle cx="541.9" cy="271.4" r="4.1" fill="url(#gb)"/>
<circle cx="554.2" cy="271.4" r="4.1" fill="url(#gb)"/>
<circle cx="566.6" cy="271.8" r="4.1" fill="url(#gb)"/>
<circle cx="579.1" cy="272" r="4.1" fill="url(#gb)"/>
<circle cx="591.2" cy="273.1" r="4.1" fill="url(#gb)"/>
</g>
<text x="468.6" y="472.4" text-anchor="middle" class="ax" style="font-size:11.6px">Cycle numbers</text>
<text transform="translate(312.1,344.9) rotate(-90)" text-anchor="middle" class="ax" style="font-size:11.5px">Capacity retention (%)</text>
<text x="572.8" y="428.5" class="pl">(d)</text>
</svg></body></html>
